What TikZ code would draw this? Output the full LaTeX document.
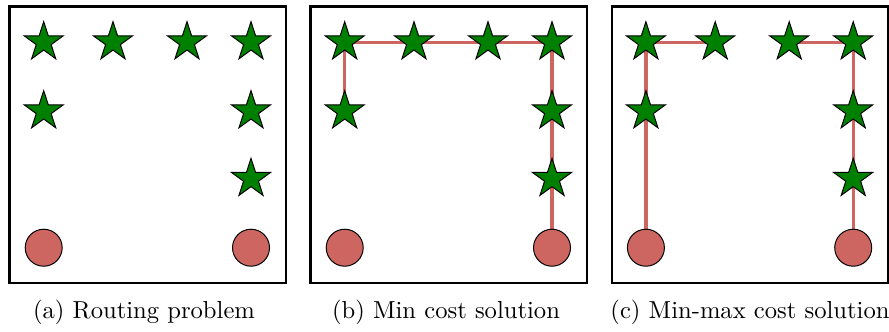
\documentclass[tikz,border=0pt]{standalone}
\usetikzlibrary{shapes.geometric,backgrounds}
\definecolor{stargreen}{RGB}{0,128,0}
\definecolor{routered}{RGB}{205,102,97}
\tikzset{
  target/.style={star, star points=5, star point ratio=2.618, minimum size=16.67pt, inner sep=0pt, fill=stargreen, draw=black, line width=0.4pt},
  depot/.style={circle, minimum size=15.04pt, inner sep=0pt, fill=routered, draw=black, line width=0.4pt},
  frame/.style={draw=black, line width=0.85pt},
  route/.style={draw=routered, line width=1.3pt},
  caption/.style={anchor=base, font=\fontsize{10}{12}\selectfont}
}
\newcommand\mkpanel[2]{%
  \draw[frame] ({#2+9.5},6.5) rectangle ({#2+286},283);
  \node[target] (#1s11) at ({#2+43.7},42.2) {};
  \node[target] (#1s12) at ({#2+113},42.2) {};
  \node[target] (#1s13) at ({#2+187},42.2) {};
  \node[target] (#1s14) at ({#2+251},42.2) {};
  \node[target] (#1s21) at ({#2+43.7},111.2) {};
  \node[target] (#1s24) at ({#2+251},111.2) {};
  \node[target] (#1s34) at ({#2+251},178.8) {};
  \node[depot] (#1c1) at ({#2+43.7},247.7) {};
  \node[depot] (#1c4) at ({#2+251},247.7) {};
}
\begin{document}
\begin{tikzpicture}[x=0.4065pt,y=-0.4065pt]
\useasboundingbox (0,0) rectangle (889,331);
\mkpanel{a}{0}
\mkpanel{b}{301}
\mkpanel{c}{602.2}
\begin{pgfonlayer}{background}
  \draw[route] (bs21.center) -- (bs11.center) -- (bs12.center) -- (bs13.center) -- (bs14.center) -- (bs24.center) -- (bs34.center) -- (bc4.center);
  \draw[route] (cc1.center) -- (cs21.center) -- (cs11.center) -- (cs12.center);
  \draw[route] (cc4.center) -- (cs34.center) -- (cs24.center) -- (cs14.center) -- (cs13.center);
\end{pgfonlayer}
\node[caption] (capa) at (144,318) {(a) Routing problem};
\node[caption] (capb) at (446,318) {(b) Min cost solution};
\node[caption] (capc) at (750,318) {(c) Min-max cost solution};
\end{tikzpicture}
\end{document}
